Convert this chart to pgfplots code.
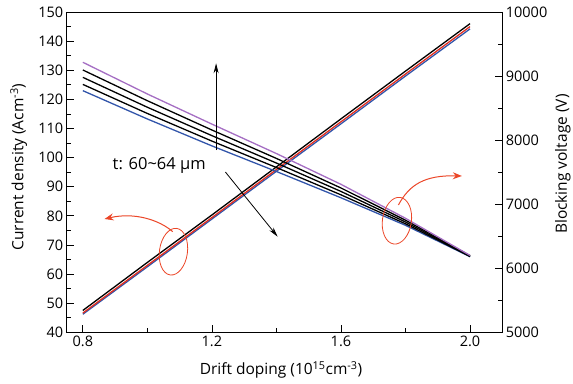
\documentclass[border=0pt]{standalone}
\usepackage{pgfplots}
\pgfplotsset{compat=1.18}
\usepackage{fontspec}
\setmainfont{Open Sans}
\usetikzlibrary{arrows.meta,shapes.geometric}
\definecolor{cpurple}{RGB}{165,110,195}
\definecolor{cblue}{RGB}{50,85,170}
\definecolor{cred}{RGB}{225,45,30}
\definecolor{ared}{RGB}{235,70,40}
\begin{document}
\begin{tikzpicture}
\useasboundingbox (-66.7pt,-50.7pt) rectangle (506.3pt,332.3pt);
\pgfplotsset{
  common/.style={
    width=435.6pt, height=320.3pt, scale only axis,
    at={(0,0)}, anchor=south west,
    xmin=0.75, xmax=2.1,
    xtick={0.8,1.2,1.6,2.0}, minor x tick num=1,
    tick align=inside,
    tick style={line width=0.8pt, black},
    major tick length=7pt, minor tick length=4.5pt,
    tick label style={font=\fontsize{14.5}{16}\selectfont},
    label style={font=\fontsize{15.5}{17}\selectfont},
    /pgf/number format/assume math mode=true,
    axis line style={line width=0.9pt},
    clip=false,
  },
}
\begin{axis}[common,
  ymin=40, ymax=150, ytick={40,50,...,150}, minor y tick num=1,
  xtick pos=left, ytick pos=left,
  xticklabel style={/pgf/number format/.cd,fixed,fixed zerofill,precision=1},
  xlabel={Drift doping (10\textsuperscript{15}cm\textsuperscript{-3})},
  ylabel={Current density (Acm\textsuperscript{-3})},
  xlabel style={at={(axis description cs:0.492,-0.118)}, anchor=center},
  ylabel style={at={(axis description cs:-0.110,0.516)}, anchor=center, rotate=0},
]
\addplot[cblue, line width=1.3pt] coordinates {(0.8,46.2)(1.0,62.5)(1.2,78.9)(1.4,95.3)(1.6,111.6)(1.8,128.0)(2.0,144.2)};
\addplot[cred, line width=1.3pt] coordinates {(0.8,46.6)(1.0,63.0)(1.2,79.4)(1.4,95.9)(1.6,112.3)(1.8,128.7)(2.0,145.0)};
\addplot[black, line width=1.3pt] coordinates {(0.8,47.5)(1.0,64.0)(1.2,80.3)(1.4,96.8)(1.6,113.3)(1.8,129.7)(2.0,146.0)};
\end{axis}
\begin{axis}[common,
  hide x axis,
  ymin=5000, ymax=10000, ytick={5000,6000,...,10000}, minor y tick num=1,
  ytick pos=right, yticklabel pos=right,
  scaled y ticks=false,
  yticklabel style={/pgf/number format/1000 sep={}},
  ylabel={Blocking voltage (V)},
  ylabel style={at={(axis description cs:1.139,0.525)}, anchor=center, rotate=0},
]
\addplot[cblue, line width=1.3pt] coordinates {(0.8,8772)(1.0,8330)(1.2,7910)(1.4,7510)(1.6,7100)(1.8,6670)(2.0,6180)};
\addplot[black, line width=1.3pt] coordinates {(0.8,8870)(1.0,8416)(1.2,7985)(1.4,7572)(1.6,7146)(1.8,6694)(2.0,6184)};
\addplot[black, line width=1.3pt] coordinates {(0.8,8980)(1.0,8513)(1.2,8070)(1.4,7642)(1.6,7199)(1.8,6722)(2.0,6189)};
\addplot[black, line width=1.3pt] coordinates {(0.8,9095)(1.0,8615)(1.2,8158)(1.4,7714)(1.6,7253)(1.8,6750)(2.0,6195)};
\addplot[cpurple, line width=1.3pt] coordinates {(0.8,9215)(1.0,8720)(1.2,8250)(1.4,7790)(1.6,7310)(1.8,6780)(2.0,6200)};
\end{axis}
\begin{axis}[common, hide x axis, hide y axis, ymin=40, ymax=150]
\draw[black, line width=0.8pt, -{Stealth[length=10pt,width=5pt]}] (axis cs:1.213,102.6) -- (axis cs:1.213,132.4);
\draw[black, line width=0.8pt, -{Stealth[length=10pt,width=5pt]}] (axis cs:1.2418,95.05) -- (axis cs:1.4037,72.84);
\node[anchor=base west, inner sep=0pt, font=\fontsize{16.5}{18}\selectfont] at (axis cs:0.892,95.74) {t: 60\textasciitilde 64 µm};
\node[draw=ared, line width=0.8pt, ellipse, minimum width=28pt, minimum height=47pt, inner sep=0pt, rotate=-8] at (axis cs:1.0808,67.69) {};
\node[draw=ared, line width=0.8pt, ellipse, minimum width=29pt, minimum height=47pt, inner sep=0pt, rotate=-8] at (axis cs:1.7734,78.33) {};
\draw[ared, line width=1pt, -{Stealth[length=9pt,width=7pt]}] (axis cs:1.0786,74.55) .. controls (axis cs:1.0375,78.57) and (axis cs:0.96,81.32) .. (axis cs:0.8672,78.92);
\draw[ared, line width=1pt, -{Stealth[length=9pt,width=7pt]}] (axis cs:1.778,83.72) .. controls (axis cs:1.8115,90.59) and (axis cs:1.858,94.02) .. (axis cs:1.9746,93.68);
\end{axis}
\end{tikzpicture}
\end{document}
